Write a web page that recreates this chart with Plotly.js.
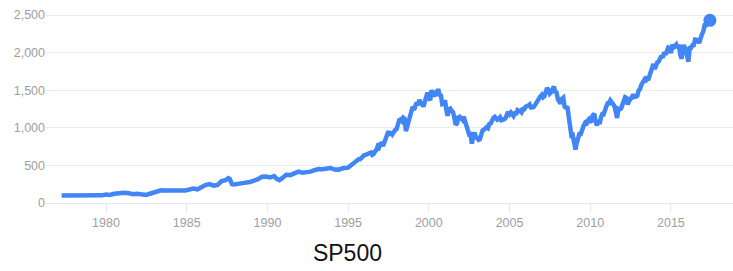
<!DOCTYPE html>
<html>
<head>
<meta charset="utf-8">
<script src="https://cdn.plot.ly/plotly-3.0.1.min.js"></script>
<style>html,body{margin:0;padding:0;background:#fff;}#chart{width:733px;height:271px;}</style>
</head>
<body>
<div id="chart"></div>
<script>
// Early period (approx. quarterly readings), 1977-1994
const earlyDates = [
  '1977-04-01','1977-07-01','1977-10-01',
  '1978-01-01','1978-04-01','1978-07-01','1978-10-01',
  '1979-01-01','1979-04-01','1979-07-01','1979-10-01',
  '1980-01-01','1980-04-01','1980-07-01','1980-10-01','1980-12-01',
  '1981-03-01','1981-06-01','1981-09-01','1981-12-01',
  '1982-03-01','1982-07-01','1982-09-01','1982-12-01',
  '1983-03-01','1983-06-01','1983-09-01','1983-12-01',
  '1984-03-01','1984-06-01','1984-09-01','1984-12-01',
  '1985-03-01','1985-06-01','1985-09-01','1985-12-01',
  '1986-03-01','1986-06-01','1986-09-01','1986-12-01',
  '1987-03-01','1987-06-01','1987-08-01','1987-09-01','1987-10-20','1987-12-01',
  '1988-03-01','1988-06-01','1988-09-01','1988-12-01',
  '1989-03-01','1989-06-01','1989-09-01','1989-12-01',
  '1990-03-01','1990-06-01','1990-08-01','1990-10-01','1990-12-01',
  '1991-03-01','1991-06-01','1991-09-01','1991-12-01',
  '1992-03-01','1992-06-01','1992-09-01','1992-12-01',
  '1993-03-01','1993-06-01','1993-09-01','1993-12-01',
  '1994-03-01','1994-06-01','1994-09-01','1994-12-01'
];
const earlyValues = [
  100, 101, 93,
  89, 96, 100, 93,
  99, 101, 104, 102,
  114, 106, 122, 128, 136,
  136, 131, 116, 122,
  112, 107, 120, 140,
  153, 168, 166, 165,
  159, 153, 166, 167,
  181, 191, 182, 211,
  238, 251, 231, 242,
  291, 304, 330, 321, 252, 247,
  258, 273, 271, 278,
  294, 317, 349, 353,
  339, 358, 322, 304, 330,
  375, 371, 388, 417,
  403, 408, 417, 436,
  451, 450, 458, 466,
  445, 444, 462, 459
];
// Monthly readings from January 1995 onward
const monthlyStartYear = 1995;
const monthlyValues = [
  470, 487, 501, 515, 533, 545, 562, 562, 584, 582, 605, 615,
  636, 640, 645, 654, 669, 671, 640, 652, 687, 705, 757, 741,
  786, 791, 757, 801, 848, 885, 954, 899, 947, 915, 955, 970,
  980, 1049, 1102, 1112, 1091, 1134, 1121, 957, 1017, 1099, 1164, 1229,
  1280, 1238, 1286, 1335, 1302, 1373, 1329, 1320, 1283, 1363, 1389, 1469,
  1394, 1366, 1499, 1452, 1421, 1455, 1431, 1518, 1437, 1429, 1315, 1320,
  1366, 1240, 1160, 1249, 1256, 1224, 1211, 1134, 1041, 1060, 1139, 1148,
  1130, 1107, 1147, 1076, 1067, 990, 912, 916, 790, 886, 936, 880,
  856, 841, 848, 917, 964, 975, 990, 1008, 996, 1051, 1058, 1112,
  1131, 1145, 1126, 1107, 1121, 1141, 1102, 1104, 1115, 1130, 1174, 1212,
  1181, 1204, 1181, 1157, 1192, 1191, 1234, 1220, 1229, 1207, 1249, 1248,
  1280, 1281, 1295, 1311, 1270, 1270, 1277, 1304, 1336, 1378, 1401, 1418,
  1438, 1407, 1421, 1482, 1531, 1503, 1455, 1474, 1527, 1549, 1481, 1468,
  1379, 1331, 1323, 1386, 1400, 1280, 1267, 1283, 1165, 969, 896, 903,
  826, 710, 798, 873, 919, 919, 987, 1021, 1057, 1036, 1096, 1115,
  1074, 1104, 1169, 1187, 1089, 1031, 1102, 1049, 1141, 1183, 1181, 1258,
  1286, 1327, 1326, 1364, 1345, 1321, 1292, 1219, 1131, 1253, 1247, 1258,
  1312, 1366, 1408, 1398, 1310, 1362, 1379, 1407, 1441, 1412, 1416, 1426,
  1498, 1515, 1569, 1598, 1631, 1606, 1686, 1633, 1682, 1757, 1806, 1848,
  1783, 1859, 1872, 1884, 1924, 1960, 1931, 2003, 1972, 2018, 2068, 2059,
  1995, 2105, 2068, 2086, 2107, 2063, 2104, 1972, 1920, 2079, 2080, 2044,
  1940, 1880, 2060, 2065, 2097, 2099, 2174, 2171, 2168, 2126, 2199, 2239,
  2279, 2364, 2363, 2384, 2412, 2430
];
const xTickYears = ['1980', '1985', '1990', '1995', '2000', '2005', '2010', '2015'];
const chartTitle = 'SP500';

const monthlyDates = monthlyValues.map((v, i) => {
  const y = monthlyStartYear + Math.floor(i / 12);
  const m = (i % 12) + 1;
  return y + '-' + (m < 10 ? '0' + m : m) + '-01';
});
const dates = earlyDates.concat(monthlyDates);
const values = earlyValues.concat(monthlyValues);

const blue = '#4285f4';
const font = 'Liberation Sans, Arial, Helvetica, sans-serif';
const tickFont = {family: font, size: 12.5, color: '#9e9e9e'};

const traces = [
  {x: dates, y: values, type: 'scatter', mode: 'lines',
   line: {color: blue, width: 4.5}, hoverinfo: 'skip'},
  {x: [dates[dates.length - 1]], y: [values[values.length - 1]], type: 'scatter', mode: 'markers',
   marker: {color: blue, size: 13}, hoverinfo: 'skip'}
];

const layout = {
  width: 733, height: 271,
  margin: {l: 46, r: 0, t: 0, b: 68},
  paper_bgcolor: '#ffffff', plot_bgcolor: '#ffffff',
  showlegend: false,
  title: {text: chartTitle, font: {family: font, size: 23, color: '#111111'},
          xref: 'container', x: 0.474, xanchor: 'center',
          yref: 'container', y: 0.066, yanchor: 'middle'},
  xaxis: {type: 'date', range: ['1976-04-13', '2018-11-06'],
          tickmode: 'array', tickvals: xTickYears.map(y => y + '-01-01'), ticktext: xTickYears,
          ticks: 'outside', ticklen: 8, tickcolor: '#e6e6e6', tickwidth: 1,
          showgrid: false, showline: false, zeroline: false, tickfont: tickFont},
  yaxis: {range: [0, 2700], dtick: 500, tick0: 0, tickformat: ',',
          gridcolor: '#ececec', gridwidth: 1, zeroline: true, zerolinecolor: '#e6e6e6', zerolinewidth: 1,
          showline: false, ticks: '', tickfont: tickFont}
};

Plotly.newPlot('chart', traces, layout, {displayModeBar: false, staticPlot: true});
</script>
</body>
</html>
